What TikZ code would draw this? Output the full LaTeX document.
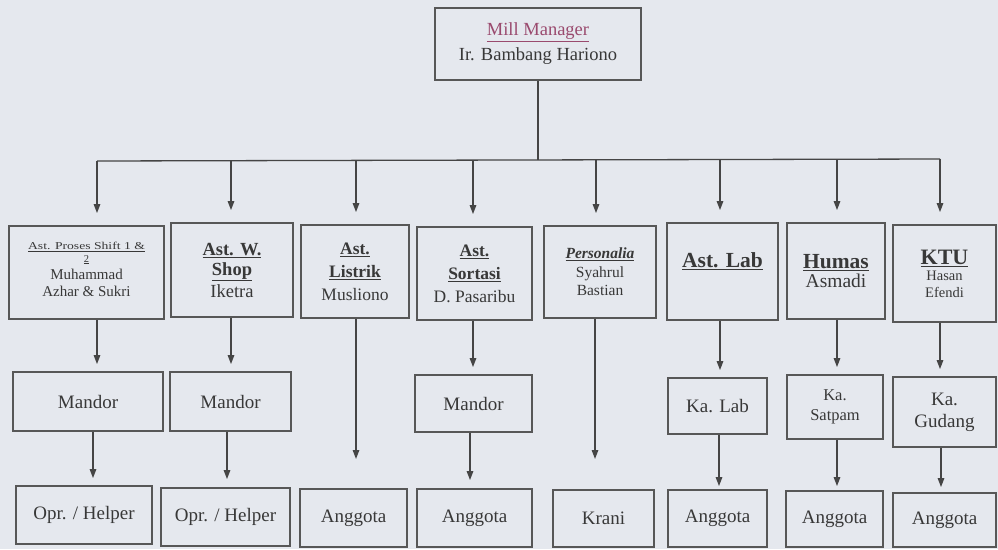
\documentclass[tikz,border=0pt]{standalone}
\usepackage{fontspec}
\setmainfont{Liberation Serif}
\usetikzlibrary{arrows.meta}
\definecolor{bg}{HTML}{E5E8EE}
\definecolor{ln}{HTML}{454545}
\definecolor{bx}{HTML}{575757}
\definecolor{tx}{HTML}{383838}
\definecolor{mm}{HTML}{9A4A6E}
\newcommand{\myfs}[2]{\fontsize{#1}{#2}\selectfont}
\begin{document}
\begin{tikzpicture}[x=1pt,y=-1pt,
  box/.style={draw=bx, line width=1.8pt, text=tx, align=center, inner sep=0pt, font=\myfs{19}{22}},
  conn/.style={draw=ln, line width=1.3pt},
  arr/.style={conn, -{Triangle[length=9pt,width=6.5pt]}}]
\fill[bg] (0,0) rectangle (998,549);
\useasboundingbox (0,0) rectangle (998,549);

% top
\node[box, minimum width=206, minimum height=72, font=\myfs{18.5}{25}] (top) at (538,44)
  {\textcolor{mm}{\underline{Mill Manager}}\\Ir. Bambang Hariono};

% level 2
\node[box, minimum width=155, minimum height=93, font=\myfs{15}{17}] (b1) at (86.5,272.5)
  {\scalebox{1.3}[1]{\myfs{10.5}{11}\underline{Ast. Proses Shift 1 \&}}\\[-4pt]{\myfs{10.5}{11}\underline{2}}\\Muhammad\\Azhar \& Sukri\\[-10pt]\mbox{}};
\node[box, minimum width=122, minimum height=94, font=\myfs{18.5}{20}] (b2) at (232,270)
  {\textbf{\underline{Ast. W.}}\\\textbf{\underline{Shop}}\\[2pt]Iketra};
\node[box, minimum width=108, minimum height=93, font=\myfs{17.5}{23}] (b3) at (355,271.5)
  {\textbf{\underline{Ast.}}\\\textbf{\underline{Listrik}}\\Musliono};
\node[box, minimum width=115, minimum height=93, font=\myfs{17.5}{23}] (b4) at (474.5,273.5)
  {\textbf{\underline{Ast.}}\\\textbf{\underline{Sortasi}}\\D. Pasaribu};
\node[box, minimum width=112, minimum height=92, font=\myfs{15.5}{18.5}] (b5) at (600,272)
  {\textbf{\textit{\underline{Personalia}}}\\Syahrul\\Bastian};
\node[box, minimum width=111, minimum height=97, font=\myfs{21.5}{22}] (b6) at (722.5,271.5)
  {\textbf{\underline{Ast. Lab}}\\\mbox{}};
\node[box, minimum width=98, minimum height=96, font=\myfs{19.5}{19}] (b7) at (836,271)
  {\textbf{\myfs{21.5}{19}\underline{Humas}}\\Asmadi};
\node[box, minimum width=103, minimum height=97, font=\myfs{14.5}{21}] (b8) at (944.5,273.5)
  {\textbf{\myfs{22}{21}\underline{KTU}}\\[-5pt]Hasan\\[-4pt]Efendi};

% level 3
\node[box, minimum width=150, minimum height=59] (m1) at (88,401.5) {Mandor};
\node[box, minimum width=121, minimum height=59] (m2) at (230.5,401.5) {Mandor};
\node[box, minimum width=117, minimum height=57] (m4) at (473.5,403.5) {Mandor};
\node[box, minimum width=99, minimum height=56] (kl) at (717.5,406) {Ka. Lab};
\node[box, minimum width=96, minimum height=64, font=\myfs{16.5}{20}] (ks) at (835,407) {Ka.\\Satpam};
\node[box, minimum width=103, minimum height=70, font=\myfs{19}{22}] (kg) at (944.5,412) {Ka.\\Gudang};

% level 4
\node[box, minimum width=136, minimum height=58] (o1) at (84,515) {Opr. / Helper};
\node[box, minimum width=129, minimum height=58] (o2) at (225.5,517) {Opr. / Helper};
\node[box, minimum width=107, minimum height=58] (a3) at (353.5,518) {Anggota};
\node[box, minimum width=115, minimum height=58] (a4) at (474.5,518) {Anggota};
\node[box, minimum width=101, minimum height=57] (kr) at (603.5,518.5) {Krani};
\node[box, minimum width=99, minimum height=57] (a6) at (717.5,518.5) {Anggota};
\node[box, minimum width=97, minimum height=56] (a7) at (834.5,519) {Anggota};
\node[box, minimum width=103, minimum height=54] (a8) at (944.5,520) {Anggota};

% bus
\coordinate (d1) at (97,161);
\coordinate (d2) at (231,161);
\coordinate (d3) at (356,160);
\coordinate (d4) at (473,160);
\coordinate (d5) at (596,160);
\coordinate (d6) at (720,159);
\coordinate (d7) at (837,159);
\coordinate (d8) at (940,159);
\draw[conn] (top.south) -- (top.south |- d5);
\draw[conn] (d1) -- (d8);
\foreach \i in {1,...,8} {
  \draw[arr, shorten >=12pt] (d\i) -- (d\i |- b\i.north);
}

% level 2 -> 3
\draw[arr, shorten >=7pt] (b1.south -| d1) -- (m1.north -| d1);
\draw[arr, shorten >=7pt] (b2.south -| d2) -- (m2.north -| d2);
\draw[arr, shorten >=7pt] (b4.south -| d4) -- (m4.north -| d4);
\draw[arr, shorten >=7pt] (b6.south -| d6) -- (kl.north -| d6);
\draw[arr, shorten >=7pt] (b7.south -| d7) -- (ks.north -| d7);
\draw[arr, shorten >=7pt] (b8.south -| d8) -- (kg.north -| d8);

% free ends
\coordinate (e3) at (356,459);
\coordinate (e5) at (595,459);
\draw[arr] (b3.south -| e3) -- (e3);
\draw[arr] (b5.south -| e5) -- (e5);

% level 3 -> 4
\coordinate (f1) at (93,0);
\coordinate (f2) at (227,0);
\coordinate (f4) at (470,0);
\coordinate (f6) at (719,0);
\coordinate (f7) at (837,0);
\coordinate (f8) at (941,0);
\draw[arr, shorten >=7pt] (m1.south -| f1) -- (o1.north -| f1);
\draw[arr, shorten >=8pt] (m2.south -| f2) -- (o2.north -| f2);
\draw[arr, shorten >=8pt] (m4.south -| f4) -- (a4.north -| f4);
\draw[arr, shorten >=3pt] (kl.south -| f6) -- (a6.north -| f6);
\draw[arr, shorten >=4pt] (ks.south -| f7) -- (a7.north -| f7);
\draw[arr, shorten >=5pt] (kg.south -| f8) -- (a8.north -| f8);
\end{tikzpicture}
\end{document}
